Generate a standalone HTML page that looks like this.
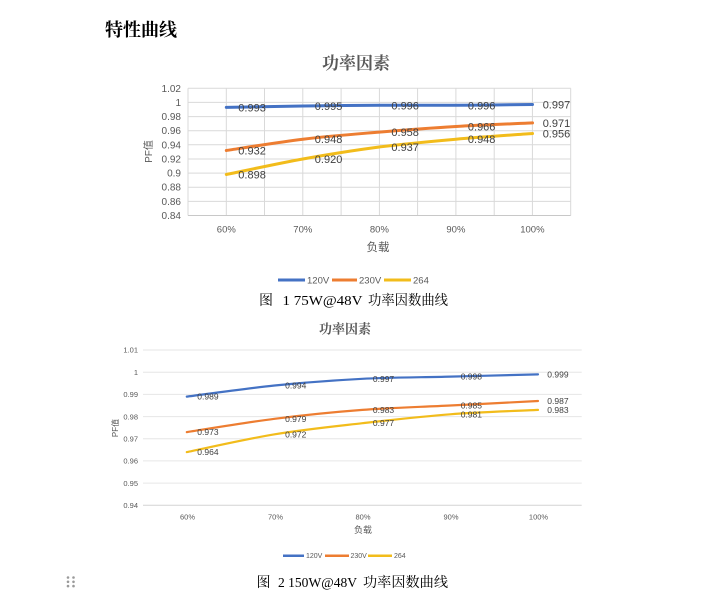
<!DOCTYPE html>
<html><head><meta charset="utf-8"><style>
html,body{margin:0;padding:0;background:#fff;}
svg{display:block;}
.s{font-family:"Liberation Sans","Noto Sans CJK SC",sans-serif;}
.r{font-family:"Liberation Serif","Noto Serif CJK SC",serif;}
</style></head><body>
<svg width="710" height="605" viewBox="0 0 710 605" xmlns="http://www.w3.org/2000/svg">
<rect width="710" height="605" fill="#fff"/>
<text x="105" y="36" class="r" font-size="18" font-weight="bold" fill="#000">特性曲线</text>

<!-- Chart 1 -->
<text x="322" y="69" class="r" font-size="17" font-weight="bold" fill="#595959">功率因素</text>
<g stroke="#D9D9D9" stroke-width="1" fill="none">
<line x1="188" y1="88.3" x2="570.7" y2="88.3"/>
<line x1="188" y1="102.4" x2="570.7" y2="102.4"/>
<line x1="188" y1="116.6" x2="570.7" y2="116.6"/>
<line x1="188" y1="130.7" x2="570.7" y2="130.7"/>
<line x1="188" y1="144.8" x2="570.7" y2="144.8"/>
<line x1="188" y1="159.0" x2="570.7" y2="159.0"/>
<line x1="188" y1="173.1" x2="570.7" y2="173.1"/>
<line x1="188" y1="187.2" x2="570.7" y2="187.2"/>
<line x1="188" y1="201.4" x2="570.7" y2="201.4"/>
<line x1="188" y1="88.3" x2="188" y2="215.5"/>
<line x1="226.3" y1="88.3" x2="226.3" y2="215.5"/>
<line x1="264.5" y1="88.3" x2="264.5" y2="215.5"/>
<line x1="302.8" y1="88.3" x2="302.8" y2="215.5"/>
<line x1="341.1" y1="88.3" x2="341.1" y2="215.5"/>
<line x1="379.4" y1="88.3" x2="379.4" y2="215.5"/>
<line x1="417.6" y1="88.3" x2="417.6" y2="215.5"/>
<line x1="455.9" y1="88.3" x2="455.9" y2="215.5"/>
<line x1="494.2" y1="88.3" x2="494.2" y2="215.5"/>
<line x1="532.4" y1="88.3" x2="532.4" y2="215.5"/>
<line x1="570.7" y1="88.3" x2="570.7" y2="215.5"/>
</g>
<line x1="188" y1="215.5" x2="570.7" y2="215.5" stroke="#C8C8C8" stroke-width="1"/>
<g class="s" font-size="10" fill="#595959" text-anchor="end">
<text x="181" y="91.8">1.02</text>
<text x="181" y="105.9">1</text>
<text x="181" y="120.1">0.98</text>
<text x="181" y="134.2">0.96</text>
<text x="181" y="148.3">0.94</text>
<text x="181" y="162.5">0.92</text>
<text x="181" y="176.6">0.9</text>
<text x="181" y="190.7">0.88</text>
<text x="181" y="204.9">0.86</text>
<text x="181" y="219.0">0.84</text>
</g>
<g class="s" font-size="9.5" fill="#595959" text-anchor="middle">
<text x="226.3" y="232.5">60%</text>
<text x="302.8" y="232.5">70%</text>
<text x="379.4" y="232.5">80%</text>
<text x="455.9" y="232.5">90%</text>
<text x="532.4" y="232.5">100%</text>
</g>
<text x="378" y="251" class="s" font-size="11.5" fill="#595959" text-anchor="middle">负载</text>
<text transform="translate(152,151.5) rotate(-90)" class="s" font-size="10" fill="#595959" text-anchor="middle">PF值</text>

<g fill="none" stroke-width="3" stroke-linecap="round">
<path stroke="#4472C4" d="M226.3,107.4 C239.06,107.17 277.33,106.35 302.85,106.0 C328.37,105.65 353.88,105.42 379.4,105.3 C404.92,105.18 430.43,105.43 455.95,105.3 C481.47,105.17 519.74,104.63 532.5,104.5"/>
<path stroke="#ED7D31" d="M226.3,150.5 C239.06,148.62 277.33,142.27 302.85,139.2 C328.37,136.13 353.88,134.22 379.4,132.1 C404.92,129.98 430.43,128.03 455.95,126.5 C481.47,124.97 519.74,123.5 532.5,122.9"/>
<path stroke="#F2BC1B" d="M226.3,174.5 C239.06,171.92 277.33,163.58 302.85,159.0 C328.37,154.42 353.88,150.3 379.4,147.0 C404.92,143.7 430.43,141.45 455.95,139.2 C481.47,136.95 519.74,134.45 532.5,133.5"/>
</g>
<g class="s" font-size="11" fill="#404040">
<text x="238.3" y="111.4">0.993</text>
<text x="314.8" y="110.0">0.995</text>
<text x="391.4" y="109.3">0.996</text>
<text x="467.9" y="109.3">0.996</text>
<text x="542.7" y="108.5">0.997</text>
<text x="238.3" y="154.5">0.932</text>
<text x="314.8" y="143.2">0.948</text>
<text x="391.4" y="136.1">0.958</text>
<text x="467.9" y="130.5">0.966</text>
<text x="542.7" y="126.9">0.971</text>
<text x="238.3" y="178.5">0.898</text>
<text x="314.8" y="163.0">0.920</text>
<text x="391.4" y="151.0">0.937</text>
<text x="467.9" y="143.2">0.948</text>
<text x="542.7" y="137.5">0.956</text>
</g>
<g stroke-width="3">
<line x1="278" y1="280" x2="305" y2="280" stroke="#4472C4"/>
<line x1="332" y1="280" x2="357" y2="280" stroke="#ED7D31"/>
<line x1="384" y1="280" x2="411" y2="280" stroke="#F2BC1B"/>
</g>
<g class="s" font-size="9.5" fill="#595959">
<text x="307" y="283.5">120V</text>
<text x="359" y="283.5">230V</text>
<text x="413" y="283.5">264</text>
</g>
<g class="r" font-size="14" fill="#000">
<text x="259" y="305">图</text>
<text x="282.5" y="305" textLength="80" lengthAdjust="spacingAndGlyphs">1 75W@48V</text>
<text x="368" y="305" textLength="80" lengthAdjust="spacingAndGlyphs">功率因数曲线</text>
</g>

<!-- Chart 2 -->
<text x="319" y="333.5" class="r" font-size="13" font-weight="bold" fill="#595959">功率因素</text>
<g stroke="#E6E6E6" stroke-width="1">
<line x1="143" y1="350" x2="581.7" y2="350"/>
<line x1="143" y1="372.2" x2="581.7" y2="372.2"/>
<line x1="143" y1="394.4" x2="581.7" y2="394.4"/>
<line x1="143" y1="416.6" x2="581.7" y2="416.6"/>
<line x1="143" y1="438.8" x2="581.7" y2="438.8"/>
<line x1="143" y1="460.9" x2="581.7" y2="460.9"/>
<line x1="143" y1="483.1" x2="581.7" y2="483.1"/>
</g>
<line x1="143" y1="505.3" x2="581.7" y2="505.3" stroke="#D4D4D4" stroke-width="1"/>
<g class="s" font-size="7.5" fill="#595959" text-anchor="end">
<text x="138" y="352.7">1.01</text>
<text x="138" y="374.9">1</text>
<text x="138" y="397.1">0.99</text>
<text x="138" y="419.3">0.98</text>
<text x="138" y="441.5">0.97</text>
<text x="138" y="463.6">0.96</text>
<text x="138" y="485.8">0.95</text>
<text x="138" y="508.0">0.94</text>
</g>
<g class="s" font-size="7.5" fill="#595959" text-anchor="middle">
<text x="187.5" y="519.5">60%</text>
<text x="275.5" y="519.5">70%</text>
<text x="363" y="519.5">80%</text>
<text x="451" y="519.5">90%</text>
<text x="538.5" y="519.5">100%</text>
</g>
<text x="363" y="533" class="s" font-size="9" fill="#595959" text-anchor="middle">负载</text>
<text transform="translate(118,428) rotate(-90)" class="s" font-size="8" fill="#595959" text-anchor="middle">PF值</text>

<g fill="none" stroke-width="2.2" stroke-linecap="round">
<path stroke="#4472C4" d="M186.8,396.6 C201.43,394.75 245.33,388.47 274.6,385.5 C303.87,382.53 333.13,380.28 362.4,378.8 C391.67,377.32 420.93,377.33 450.2,376.6 C479.47,375.87 523.37,374.77 538,374.4"/>
<path stroke="#ED7D31" d="M186.8,432.1 C201.43,429.88 245.33,422.5 274.6,418.8 C303.87,415.1 333.13,412.12 362.4,409.9 C391.67,407.68 420.93,406.98 450.2,405.5 C479.47,404.02 523.37,401.75 538,401.0"/>
<path stroke="#F2BC1B" d="M186.8,452.1 C201.43,449.13 245.33,439.12 274.6,434.3 C303.87,429.48 333.13,426.53 362.4,423.2 C391.67,419.87 420.93,416.52 450.2,414.3 C479.47,412.08 523.37,410.63 538,409.9"/>
</g>
<g class="s" font-size="8.5" fill="#404040">
<text x="197.3" y="399.6">0.989</text>
<text x="285.1" y="388.5">0.994</text>
<text x="372.9" y="381.8">0.997</text>
<text x="460.7" y="379.6">0.998</text>
<text x="547.3" y="377.4">0.999</text>
<text x="197.3" y="435.1">0.973</text>
<text x="285.1" y="421.8">0.979</text>
<text x="372.9" y="412.9">0.983</text>
<text x="460.7" y="408.5">0.985</text>
<text x="547.3" y="404.0">0.987</text>
<text x="197.3" y="455.1">0.964</text>
<text x="285.1" y="437.3">0.972</text>
<text x="372.9" y="426.2">0.977</text>
<text x="460.7" y="417.3">0.981</text>
<text x="547.3" y="412.9">0.983</text>
</g>
<g stroke-width="2.5">
<line x1="283" y1="555.7" x2="304" y2="555.7" stroke="#4472C4"/>
<line x1="325" y1="555.7" x2="349" y2="555.7" stroke="#ED7D31"/>
<line x1="368" y1="555.7" x2="392" y2="555.7" stroke="#F2BC1B"/>
</g>
<g class="s" font-size="7" fill="#595959">
<text x="306" y="558.2">120V</text>
<text x="350.5" y="558.2">230V</text>
<text x="394" y="558.2">264</text>
</g>
<g class="r" font-size="14" fill="#000">
<text x="256.5" y="587">图</text>
<text x="278" y="587" textLength="79" lengthAdjust="spacingAndGlyphs">2 150W@48V</text>
<text x="363" y="587" textLength="85" lengthAdjust="spacingAndGlyphs">功率因数曲线</text>
</g>
<g fill="#9A9A9A">
<circle cx="68" cy="577.5" r="1.3"/><circle cx="73.5" cy="577.5" r="1.3"/>
<circle cx="68" cy="581.8" r="1.3"/><circle cx="73.5" cy="581.8" r="1.3"/>
<circle cx="68" cy="586.1" r="1.3"/><circle cx="73.5" cy="586.1" r="1.3"/>
</g>
</svg>
</body></html>
